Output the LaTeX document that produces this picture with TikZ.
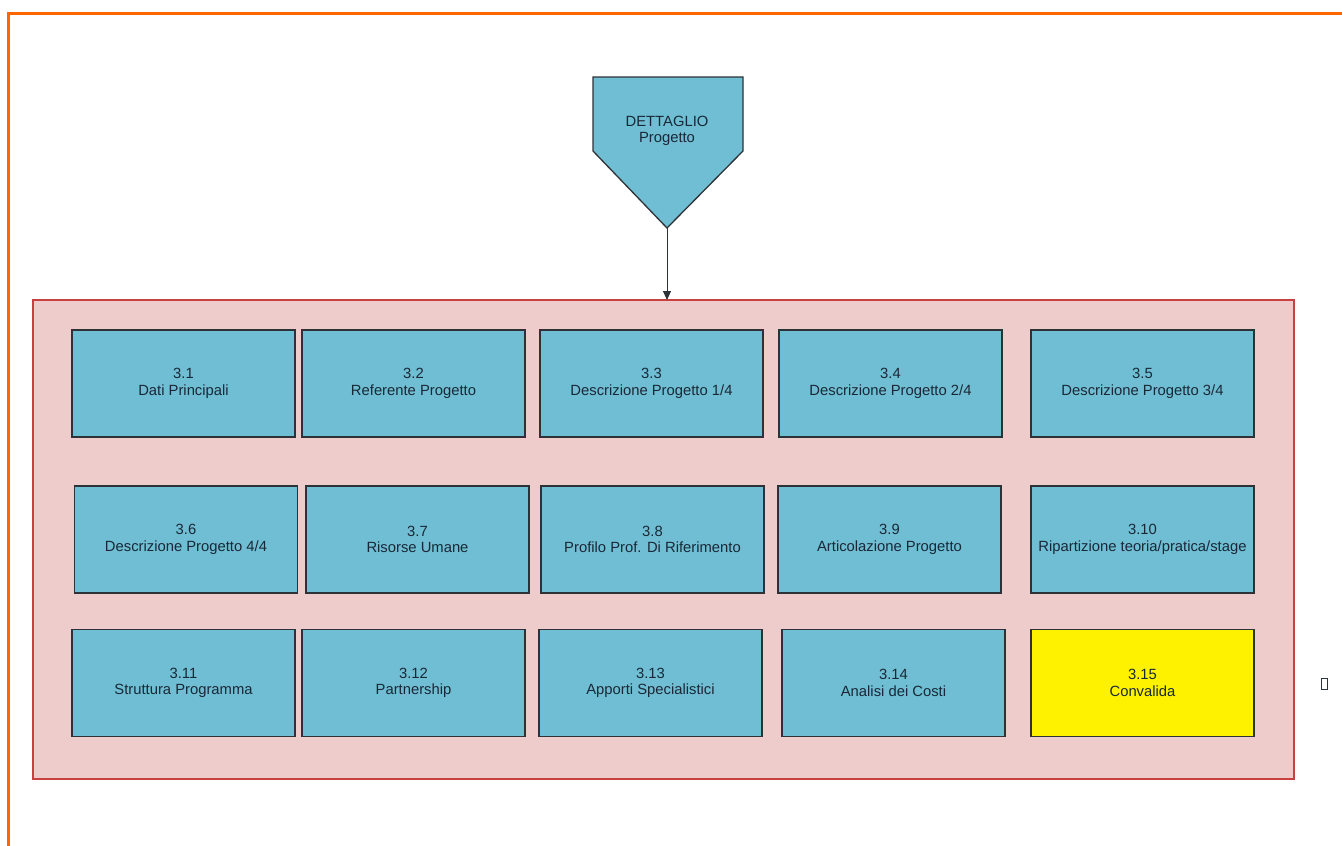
\documentclass[tikz,border=0pt]{standalone}
\usepackage{fontspec}
\setmainfont{Liberation Sans}
\usetikzlibrary{arrows.meta}

\definecolor{fasecyan}{RGB}{112,190,211}
\definecolor{faseline}{RGB}{45,50,55}
\definecolor{fasetext}{RGB}{25,40,55}
\definecolor{panelpink}{RGB}{239,204,204}
\definecolor{panelred}{RGB}{200,65,65}
\definecolor{cornice}{RGB}{255,102,0}

\tikzset{
  fase/.style={shape=rectangle, draw=faseline, fill=fasecyan, line width=1.3pt,
    minimum width=223pt, minimum height=107pt, inner sep=0pt, outer sep=0pt,
    align=center, text=fasetext, font=\fontsize{14.8}{16.5}\selectfont},
  finale/.style={fase, fill=yellow},
}

\begin{document}
\begin{tikzpicture}[x=1pt, y=-1pt]
      \useasboundingbox (0,0) rectangle (1342,846);
      \draw[cornice, line width=3pt] (1342,13) -- (8,13) -- (8,846);

      \node[shape=rectangle, draw=panelred, fill=panelpink, line width=1.3pt,
        minimum width=1261pt, minimum height=479pt, inner sep=0pt, outer sep=0pt] (panel) at (663.5,539.5) {};

      \draw[draw=faseline, fill=fasecyan, line width=1.3pt]
        (593,77) -- (743,77) -- (743,151) -- (667,228) -- (593,151) -- cycle;
      \node[align=center, text=fasetext, font=\fontsize{14.8}{16.5}\selectfont] (dettaglio) at (667,131) {DETTAGLIO\\Progetto};
      \coordinate (punta) at (667,228);

      \node[fase] (f1) at (183.5,383.5) {3.1\\Dati Principali};
      \node[fase] (f2) at (413.5,383.5) {3.2\\Referente Progetto};
      \node[fase] (f3) at (651.5,383.5) {3.3\\Descrizione Progetto 1/4};
      \node[fase] (f4) at (890.5,383.5) {3.4\\Descrizione Progetto 2/4};
      \node[fase] (f5) at (1142.5,383.5) {3.5\\Descrizione Progetto 3/4};

      \node[fase] (f6) at (186,539.5) {3.6\\Descrizione Progetto 4/4};
      \node[fase] (f7) at (417.5,539.5) {3.7\\Risorse Umane};
      \node[fase] (f8) at (652.5,539.5) {3.8\\Profilo Prof. Di Riferimento};
      \node[fase] (f9) at (889.5,539.5) {3.9\\Articolazione Progetto};
      \node[fase] (f10) at (1142.5,539.5) {3.10\\Ripartizione teoria/pratica/stage};

      \node[fase] (f11) at (183.5,683) {3.11\\Struttura Programma};
      \node[fase] (f12) at (413.5,683) {3.12\\Partnership};
      \node[fase] (f13) at (650.5,683) {3.13\\Apporti Specialistici};
      \node[fase] (f14) at (893.5,683) {3.14\\Analisi dei Costi};
      \node[finale] (f15) at (1142.5,683) {3.15\\Convalida};

      \node[shape=rectangle, draw=faseline, line width=0.9pt, minimum width=6pt,
        minimum height=11pt, inner sep=0pt] (segno) at (1324.5,684) {};

      \draw [-{Triangle[width=8pt,length=9pt]}, faseline, line width=1pt]  (punta) -- (punta |- panel.north);
    \end{tikzpicture}
\end{document}
